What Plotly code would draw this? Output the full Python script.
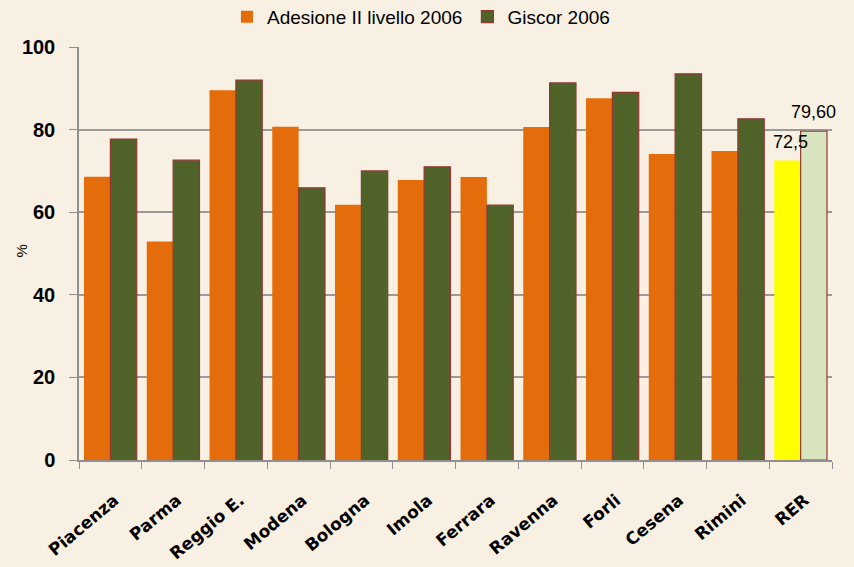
import plotly.graph_objects as go

# data
provinces = ["Piacenza", "Parma", "Reggio E.", "Modena", "Bologna", "Imola",
             "Ferrara", "Ravenna", "Forli", "Cesena", "Rimini", "RER"]
adesione = [68.6, 52.9, 89.5, 80.7, 61.8, 67.8, 68.5, 80.6, 87.6, 74.1, 74.8, 72.5]
giscor = [77.7, 72.6, 92.0, 65.9, 70.0, 71.0, 61.7, 91.3, 89.0, 93.5, 82.6, 79.6]
rer_labels = ["72,5", "79,60"]

orange = ["#e46c0a"] * 11 + ["#ffff00"]
green = ["#4f6228"] * 11 + ["#d7e4bd"]

fig = go.Figure()
fig.add_trace(
    go.Bar(
        x=provinces,
        y=adesione,
        name="Adesione II livello 2006",
        marker=dict(color=orange, line=dict(width=0)),
    )
)
fig.add_trace(
    go.Bar(
        x=provinces,
        y=giscor,
        name="Giscor 2006",
        marker=dict(color=green, line=dict(color="#953735", width=1.2)),
    )
)
# value labels over the RER pair
for val, lab, shift in zip([adesione[-1], giscor[-1]], rer_labels, [-10, 13]):
    fig.add_annotation(
        x=provinces[-1], y=val, text=lab,
        xshift=shift, yshift=7, yanchor="bottom", showarrow=False,
        font=dict(family="Liberation Sans", size=18, color="black"),
    )
# y axis title "%"
fig.add_annotation(
    xref="paper", yref="paper", x=-0.0764, y=0.506, text="%",
    xanchor="center", yanchor="middle",
    textangle=-90, showarrow=False,
    font=dict(family="Liberation Sans", size=15, color="black"),
)

fig.update_layout(
    width=854,
    height=567,
    margin=dict(l=79, r=22, t=47, b=107, autoexpand=False),
    paper_bgcolor="#f8f0e2",
    plot_bgcolor="rgba(0,0,0,0)",
    barmode="group",
    bargap=0.16,
    bargroupgap=0,
    showlegend=True,
    legend=dict(
        orientation="h",
        x=0.1965,
        xanchor="left",
        y=1.073,
        yanchor="middle",
        itemwidth=30,
        font=dict(family="Liberation Sans", size=19, color="black"),
        bgcolor="rgba(0,0,0,0)",
    ),
    xaxis=dict(
        range=[-0.5, len(provinces) - 0.5],
        tickangle=-40,
        tickson="boundaries",
        ticks="outside",
        ticklen=7,
        tickcolor="#909090",
        ticklabelstandoff=22,
        ticklabelshift=4,
        showline=True,
        linecolor="#909090",
        linewidth=1.5,
        tickfont=dict(family="DejaVu Sans", size=17, color="black", weight="bold"),
    ),
    yaxis=dict(
        range=[0, 100],
        dtick=20,
        ticks="outside",
        ticklen=8,
        tickcolor="#909090",
        ticklabelstandoff=10,
        showgrid=True,
        gridcolor="#9a9a9a",
        gridwidth=1.5,
        showline=True,
        linecolor="#909090",
        linewidth=1.5,
        zeroline=False,
        tickfont=dict(family="Liberation Sans", size=20, color="black", weight="bold"),
    ),
)
fig.write_html("out.html", config={"displayModeBar": False},
               post_script="document.body.style.margin='0px';")
